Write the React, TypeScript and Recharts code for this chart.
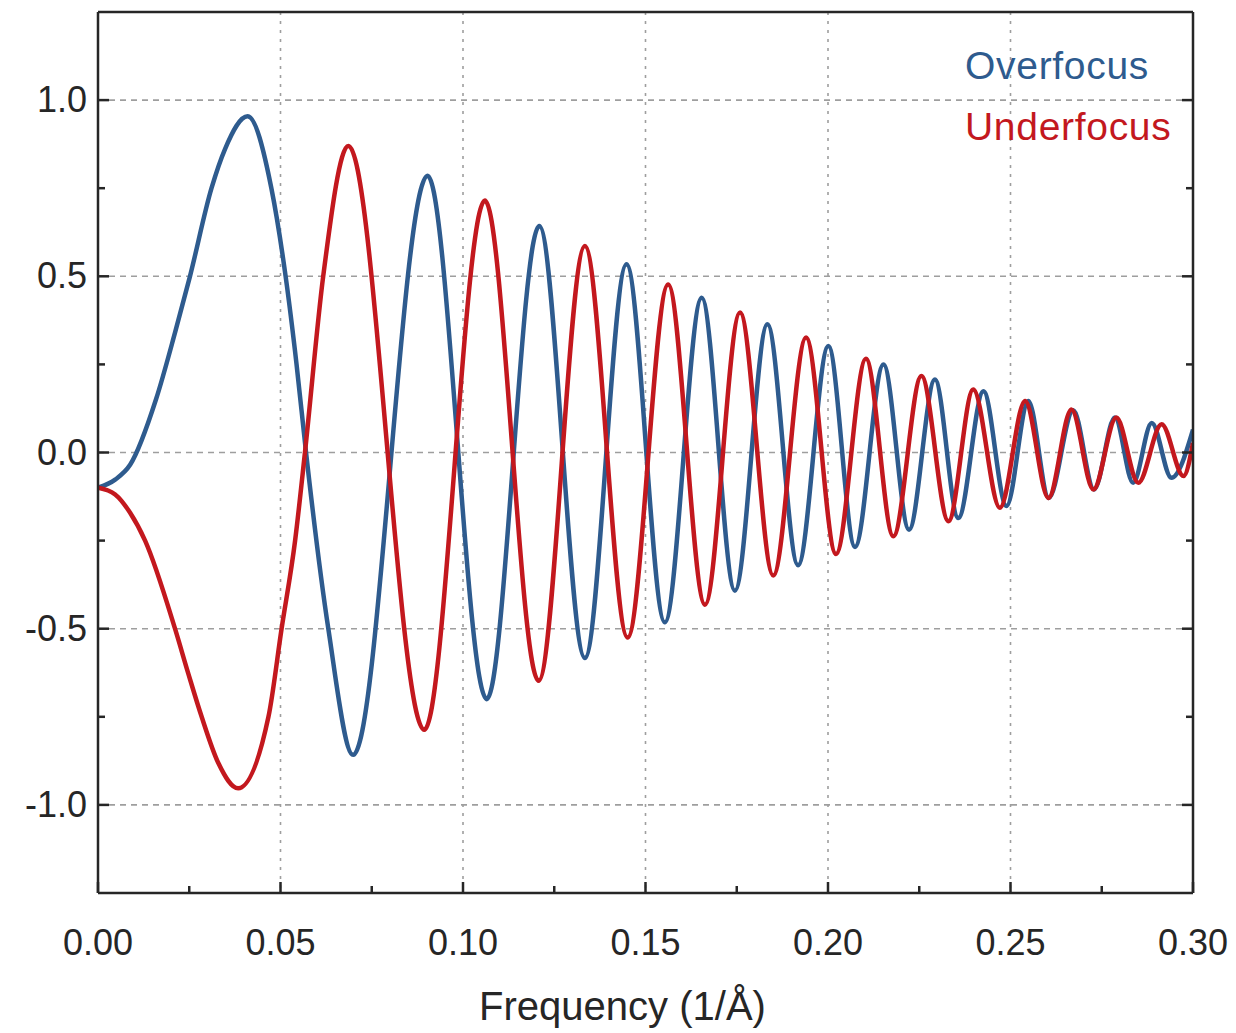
import { LineChart, Line, XAxis, YAxis, CartesianGrid, Legend, Label } from "recharts";

// values (frequency in 1/Å, CTF amplitude)
const overfocusFreq = [
  0, 0.0047, 0.0088, 0.0159, 0.0211, 0.0252, 0.0311, 0.0348, 0.041,
  0.0475, 0.0514, 0.0544, 0.057, 0.0631, 0.0699,
  0.0903, 0.1065, 0.1209, 0.1334, 0.1448, 0.1553, 0.1654, 0.1745, 0.1834, 0.1918, 0.2001,
  0.2074, 0.2152, 0.2222, 0.2293, 0.2357, 0.2426, 0.2489, 0.2549, 0.2605, 0.2672,
  0.2729, 0.2786, 0.2836, 0.2887, 0.2941, 0.3,
];
const overfocusCtf = [
  -0.1, -0.077, -0.035, 0.151, 0.34, 0.5, 0.75, 0.861, 0.954,
  0.75, 0.5, 0.25, 0, -0.5, -0.858,
  0.785, -0.7, 0.643, -0.583, 0.534, -0.482, 0.439, -0.392, 0.364, -0.32, 0.302,
  -0.268, 0.25, -0.219, 0.207, -0.186, 0.174, -0.152, 0.146, -0.129, 0.12,
  -0.105, 0.099, -0.086, 0.084, -0.072, 0.065,
];

const underfocusFreq = [
  0, 0.0047, 0.0088, 0.0129, 0.0211, 0.0247, 0.0284, 0.033, 0.0384,
  0.0467, 0.0503, 0.054, 0.0567, 0.0617, 0.0686,
  0.0894, 0.106, 0.1207, 0.1334, 0.1451, 0.1562, 0.1663, 0.1759, 0.185, 0.194, 0.2022,
  0.2104, 0.2179, 0.2256, 0.233, 0.2398, 0.2471, 0.254, 0.2604, 0.2667, 0.2727,
  0.279, 0.285, 0.2914, 0.2974, 0.3,
];
const underfocusCtf = [
  -0.1, -0.119, -0.171, -0.25, -0.5, -0.626, -0.75, -0.882, -0.953,
  -0.75, -0.5, -0.25, 0, 0.5, 0.87,
  -0.787, 0.715, -0.648, 0.586, -0.525, 0.477, -0.432, 0.397, -0.349, 0.326, -0.288,
  0.266, -0.238, 0.217, -0.195, 0.179, -0.157, 0.146, -0.129, 0.122, -0.105,
  0.099, -0.086, 0.08, -0.067, 0.027,
];

const xTicks = [0, 0.025, 0.05, 0.075, 0.1, 0.125, 0.15, 0.175, 0.2, 0.225, 0.25, 0.275, 0.3];
const yTicks = [-1, -0.75, -0.5, -0.25, 0, 0.25, 0.5, 0.75, 1];
const xGrid = [0.05, 0.1, 0.15, 0.2, 0.25];
const yGrid = [-1, -0.5, 0, 0.5, 1];

const overfocusData = overfocusFreq.map((f, i) => ({ f, v: overfocusCtf[i] }));
const underfocusData = underfocusFreq.map((f, i) => ({ f, v: underfocusCtf[i] }));

const BLUE = "#2e5b8e";
const RED = "#c3181e";
const INK = "#262626";
const GRID = "#9e9e9e";
const FONT = '"Liberation Sans", Arial, sans-serif';

const majorX = (v: number) => Math.abs(v * 20 - Math.round(v * 20)) < 1e-6;
const majorY = (v: number) => Math.abs(v * 2 - Math.round(v * 2)) < 1e-6;

function BottomTick({ x, y, payload }: any) {
  const major = majorX(payload.value);
  return (
    <g>
      <line x1={x} x2={x} y1={y} y2={y - (major ? 11 : 7)} stroke={INK} strokeWidth={2.5} />
      {major && (
        <text x={x} y={y + 62} textAnchor="middle" fontSize={36} fontFamily={FONT} fill={INK}>
          {payload.value.toFixed(2)}
        </text>
      )}
    </g>
  );
}

function TopTick({ x, y, payload }: any) {
  const major = majorX(payload.value);
  return <line x1={x} x2={x} y1={y} y2={y + (major ? 11 : 7)} stroke={INK} strokeWidth={2.5} />;
}

function LeftTick({ x, y, payload }: any) {
  const major = majorY(payload.value);
  return (
    <g>
      <line x1={x} x2={x + (major ? 11 : 7)} y1={y} y2={y} stroke={INK} strokeWidth={2.5} />
      {major && (
        <text x={x - 11} y={y + 12} textAnchor="end" fontSize={36} fontFamily={FONT} fill={INK}>
          {payload.value.toFixed(1)}
        </text>
      )}
    </g>
  );
}

function RightTick({ x, y, payload }: any) {
  const major = majorY(payload.value);
  return <line x1={x} x2={x - (major ? 11 : 7)} y1={y} y2={y} stroke={INK} strokeWidth={2.5} />;
}

function AxisTitle({ viewBox }: any) {
  return (
    <text
      x={viewBox.x + viewBox.width / 2 - 23}
      y={viewBox.y + 127}
      textAnchor="middle"
      fontSize={40}
      fontFamily={FONT}
      fill={INK}
    >
      Frequency (1/Å)
    </text>
  );
}

function LegendContent({ payload }: any) {
  return (
    <div style={{ fontFamily: FONT, fontSize: 39, letterSpacing: 0.7, lineHeight: "61px", whiteSpace: "nowrap" }}>
      {(payload || []).map((entry: any) => (
        <div key={entry.value} style={{ color: entry.color }}>
          {entry.value}
        </div>
      ))}
    </div>
  );
}

const axisLine = { stroke: INK, strokeWidth: 2.5 };

export default function App() {
  return (
    <div style={{ position: "absolute", left: 0, top: 0, width: 1236, height: 1033, background: "#fff" }}>
      <LineChart width={1236} height={1033} margin={{ top: 11, right: 42, bottom: 0, left: 0 }}>
        <CartesianGrid
          horizontal
          vertical={false}
          horizontalValues={yGrid}
          stroke={GRID}
          strokeWidth={1.6}
          strokeDasharray="6 5"
        />
        <CartesianGrid
          horizontal={false}
          vertical
          verticalValues={xGrid}
          stroke={GRID}
          strokeWidth={1.6}
          strokeDasharray="3 6"
        />
        <XAxis
          type="number"
          dataKey="f"
          domain={[0, 0.3]}
          ticks={xTicks}
          interval={0}
          height={140}
          tickSize={0}
          tickMargin={0}
          tickLine={false}
          axisLine={axisLine}
          tick={(p: any) => <BottomTick {...p} />}
          allowDataOverflow
        >
          <Label content={AxisTitle} />
        </XAxis>
        <XAxis
          xAxisId="top"
          orientation="top"
          type="number"
          domain={[0, 0.3]}
          ticks={xTicks}
          interval={0}
          height={1}
          tickSize={0}
          tickMargin={0}
          tickLine={false}
          axisLine={axisLine}
          tick={(p: any) => <TopTick {...p} />}
          allowDataOverflow
        />
        <YAxis
          type="number"
          domain={[-1.25, 1.25]}
          ticks={yTicks}
          interval={0}
          width={98}
          tickSize={0}
          tickMargin={0}
          tickLine={false}
          axisLine={axisLine}
          tick={(p: any) => <LeftTick {...p} />}
          allowDataOverflow
        />
        <YAxis
          yAxisId="right"
          orientation="right"
          type="number"
          domain={[-1.25, 1.25]}
          ticks={yTicks}
          interval={0}
          width={1}
          tickSize={0}
          tickMargin={0}
          tickLine={false}
          axisLine={axisLine}
          tick={(p: any) => <RightTick {...p} />}
          allowDataOverflow
        />
        <Line
          data={overfocusData}
          dataKey="v"
          name="Overfocus"
          type="monotone"
          stroke={BLUE}
          strokeWidth={4.5}
          dot={false}
          activeDot={false}
          isAnimationActive={false}
        />
        <Line
          data={underfocusData}
          dataKey="v"
          name="Underfocus"
          type="monotone"
          stroke={RED}
          strokeWidth={4.5}
          dot={false}
          activeDot={false}
          isAnimationActive={false}
        />
        <Legend
          layout="vertical"
          align="center"
          verticalAlign="middle"
          content={LegendContent}
          wrapperStyle={{ left: 965, top: 35, width: "auto", height: "auto" }}
        />
      </LineChart>
    </div>
  );
}
